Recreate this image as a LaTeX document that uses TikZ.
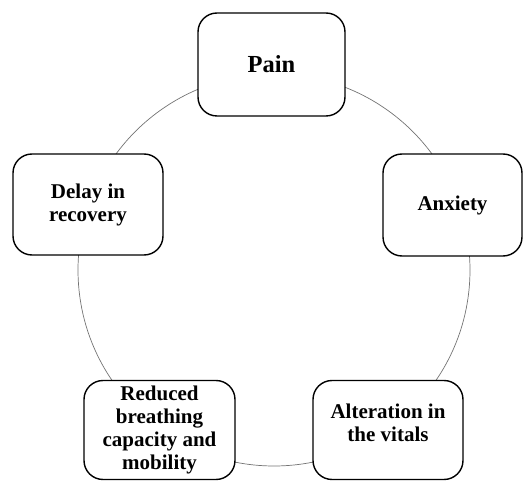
\documentclass[tikz,border=0pt]{standalone}
\usepackage{fontspec}
\setmainfont{Liberation Serif}
\begin{document}
\begin{tikzpicture}[x=1pt,y=-1pt,
  cyclebox/.style={draw=black, fill=white, line width=1.4pt, rounded corners=19pt,
    align=center, inner sep=0pt,
    font=\fontsize{21}{23}\selectfont\bfseries},
  ring/.style={draw=black!55, line width=0.7pt}]
\useasboundingbox (0,0) rectangle (523,481);
\coordinate (c) at (274,270);
\draw[ring] (c) circle [radius=196pt];
\node[cyclebox, minimum width=147pt, minimum height=103pt,
  font=\fontsize{24.5}{26}\selectfont\bfseries] (pain) at (271.5,64.5) {Pain};
\node[cyclebox, minimum width=139pt, minimum height=102pt] (anx) at (452.5,205) {Anxiety};
\node[cyclebox, minimum width=150pt, minimum height=101pt] (delay) at (88,204.5) {Delay in\\recovery};
\node[cyclebox, minimum width=151pt, minimum height=99pt] (red) at (159.5,430) {Reduced\\breathing\\capacity and\\mobility};
\node[cyclebox, minimum width=150pt, minimum height=99pt] (alt) at (388,430) {Alteration in\\the vitals\\[-9pt]};
\end{tikzpicture}
\end{document}
